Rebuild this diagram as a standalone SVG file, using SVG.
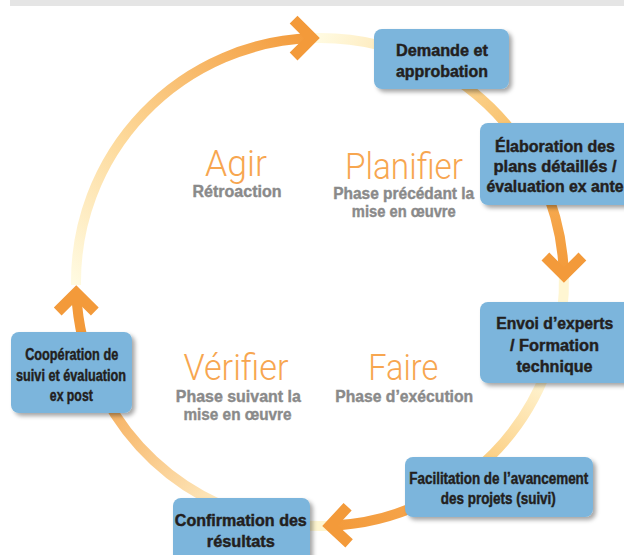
<svg xmlns="http://www.w3.org/2000/svg" width="624" height="555" viewBox="0 0 624 555">
<defs>
  <filter id="sh" x="-10%" y="-10%" width="130%" height="140%">
    <feDropShadow dx="3" dy="3" stdDeviation="2" flood-color="#000" flood-opacity="0.35"/>
  </filter>
  <linearGradient id="gA" gradientUnits="userSpaceOnUse" x1="76" y1="285" x2="312" y2="38">
    <stop offset="0" stop-color="#fffbe2"/><stop offset="0.4" stop-color="#fdd99a"/><stop offset="1" stop-color="#f39a3a"/>
  </linearGradient>
  <linearGradient id="gB" gradientUnits="userSpaceOnUse" x1="316" y1="38" x2="525" y2="143">
    <stop offset="0" stop-color="#fffbe2"/><stop offset="0.35" stop-color="#fde6b4"/><stop offset="1" stop-color="#f8bd64"/>
  </linearGradient>
  <linearGradient id="gC" gradientUnits="userSpaceOnUse" x1="542" y1="180" x2="564" y2="275">
    <stop offset="0" stop-color="#f7ae55"/><stop offset="1" stop-color="#f39a3a"/>
  </linearGradient>
  <linearGradient id="gD" gradientUnits="userSpaceOnUse" x1="547" y1="370" x2="469" y2="475">
    <stop offset="0" stop-color="#fff8da"/><stop offset="1" stop-color="#fbc670"/>
  </linearGradient>
  <linearGradient id="gE" gradientUnits="userSpaceOnUse" x1="430" y1="500" x2="330" y2="526">
    <stop offset="0" stop-color="#f6a64e"/><stop offset="1" stop-color="#f39a3a"/>
  </linearGradient>
  <linearGradient id="gF" gradientUnits="userSpaceOnUse" x1="220" y1="505" x2="105" y2="397">
    <stop offset="0" stop-color="#feeac0"/><stop offset="1" stop-color="#f6ae5c"/>
  </linearGradient>
</defs>
<style>
  .box{fill:#7bb5dc;filter:url(#sh)}
  .bt{font-family:"Liberation Sans Narrow","Liberation Sans",Arial,sans-serif;font-weight:bold;font-size:16px;fill:#231f20;stroke:#231f20;stroke-width:0.45;text-anchor:middle}
  .ph{font-family:Roboto,"Liberation Sans",sans-serif;font-weight:300;font-size:37px;fill:#f7a650;text-anchor:middle}
  .sub{font-family:"Liberation Sans Narrow","Liberation Sans",Arial,sans-serif;font-weight:bold;font-size:16.5px;fill:#8a8a8a;stroke:#8a8a8a;stroke-width:0.4;text-anchor:middle}
  .arc{fill:none;stroke-width:10;stroke-linecap:butt}
  .ah{fill:none;stroke:#f39a3a;stroke-width:11;stroke-linejoin:miter;stroke-linecap:butt}
</style>

<rect x="10" y="0" width="614" height="6" fill="#e5e5e5"/>

<g id="connectors">
  <path class="arc" stroke="url(#gA)" d="M76,285 A244,244 0 0 1 312,38.1"/>
  <path class="arc" stroke="url(#gB)" d="M312,38.1 A244,244 0 0 1 525,149.7"/>
  <path class="arc" stroke="url(#gC)" d="M541.7,180 A244,244 0 0 1 563.9,275"/>
  <path class="arc" stroke="#fff6d2" d="M563.9,275 A244,244 0 0 1 562.1,312"/>
  <path class="arc" stroke="url(#gD)" d="M546.8,370 A244,244 0 0 1 469.3,475"/>
  <path class="arc" stroke="url(#gE)" d="M430,499.8 A244,244 0 0 1 330,525.8"/>
  <path class="arc" stroke="#fff6d0" d="M330,525.8 A244,244 0 0 1 300,525.2"/>
  <path class="arc" stroke="url(#gF)" d="M220,504.6 A244,244 0 0 1 105,397.4"/>
  <path class="arc" stroke="#f39a3a" d="M83,340 A244,244 0 0 1 76.25,293"/>
  <polyline class="ah" points="293.6,19.7 312,38.1 293.6,56.5"/>
  <polyline class="ah" points="545.4,256.5 563.9,275 582.4,256.5"/>
  <polyline class="ah" points="347.6,506.7 330,525.8 349.1,543.4"/>
  <polyline class="ah" points="57.7,311.5 76.25,293 94.8,311.5"/>
</g>

<g id="demande">
  <rect class="box" x="374" y="29" width="135" height="60" rx="8"/>
  <text class="bt" x="442" y="56" textLength="92" lengthAdjust="spacingAndGlyphs">Demande et</text>
  <text class="bt" x="442" y="76.7" textLength="92" lengthAdjust="spacingAndGlyphs">approbation</text>
</g>
<g id="elaboration">
  <rect class="box" x="480" y="123" width="160" height="82" rx="8"/>
  <text class="bt" x="555" y="151.7" textLength="120" lengthAdjust="spacingAndGlyphs">Élaboration des</text>
  <text class="bt" x="555" y="171.7" textLength="123" lengthAdjust="spacingAndGlyphs">plans détaillés /</text>
  <text class="bt" x="555" y="192.3" textLength="137" lengthAdjust="spacingAndGlyphs">évaluation ex ante</text>
</g>
<g id="envoi">
  <rect class="box" x="480" y="302" width="160" height="81" rx="8"/>
  <text class="bt" x="554.7" y="329.3" textLength="117" lengthAdjust="spacingAndGlyphs">Envoi d’experts</text>
  <text class="bt" x="554.5" y="350.7" textLength="89" lengthAdjust="spacingAndGlyphs">/ Formation</text>
  <text class="bt" x="554.5" y="371.7" textLength="76" lengthAdjust="spacingAndGlyphs">technique</text>
</g>
<g id="facilitation">
  <rect class="box" x="405" y="457" width="188" height="60" rx="8"/>
  <text class="bt" x="498.8" y="484.3" textLength="179" lengthAdjust="spacingAndGlyphs">Facilitation de l’avancement</text>
  <text class="bt" x="498.3" y="504" textLength="115" lengthAdjust="spacingAndGlyphs">des projets (suivi)</text>
</g>
<g id="confirmation">
  <rect class="box" x="173" y="498" width="137" height="70" rx="8"/>
  <text class="bt" x="240.8" y="525.7" textLength="132" lengthAdjust="spacingAndGlyphs">Confirmation des</text>
  <text class="bt" x="240.8" y="546.7" textLength="68" lengthAdjust="spacingAndGlyphs">résultats</text>
</g>
<g id="cooperation">
  <rect class="box" x="11" y="332" width="121" height="81" rx="8"/>
  <text class="bt" x="71.7" y="360" textLength="93" lengthAdjust="spacingAndGlyphs">Coopération de</text>
  <text class="bt" x="71" y="381" textLength="110" lengthAdjust="spacingAndGlyphs">suivi et évaluation</text>
  <text class="bt" x="71.3" y="400.7" textLength="43" lengthAdjust="spacingAndGlyphs">ex post</text>
</g>

<g id="agir">
  <text class="ph" x="236" y="176" textLength="62" lengthAdjust="spacingAndGlyphs">Agir</text>
  <text class="sub" x="237" y="196.7" textLength="89" lengthAdjust="spacingAndGlyphs">Rétroaction</text>
</g>
<g id="planifier">
  <text class="ph" x="404" y="179" textLength="118" lengthAdjust="spacingAndGlyphs">Planifier</text>
  <text class="sub" x="403.7" y="199" textLength="141" lengthAdjust="spacingAndGlyphs">Phase précédant la</text>
  <text class="sub" x="403.8" y="217.3" textLength="104" lengthAdjust="spacingAndGlyphs">mise en œuvre</text>
</g>
<g id="verifier">
  <text class="ph" x="236" y="380" textLength="105" lengthAdjust="spacingAndGlyphs">Vérifier</text>
  <text class="sub" x="238.3" y="401.7" textLength="125" lengthAdjust="spacingAndGlyphs">Phase suivant la</text>
  <text class="sub" x="237.5" y="420" textLength="108" lengthAdjust="spacingAndGlyphs">mise en œuvre</text>
</g>
<g id="faire">
  <text class="ph" x="403.3" y="380" textLength="70" lengthAdjust="spacingAndGlyphs">Faire</text>
  <text class="sub" x="404.2" y="401.7" textLength="138" lengthAdjust="spacingAndGlyphs">Phase d’exécution</text>
</g>
</svg>
